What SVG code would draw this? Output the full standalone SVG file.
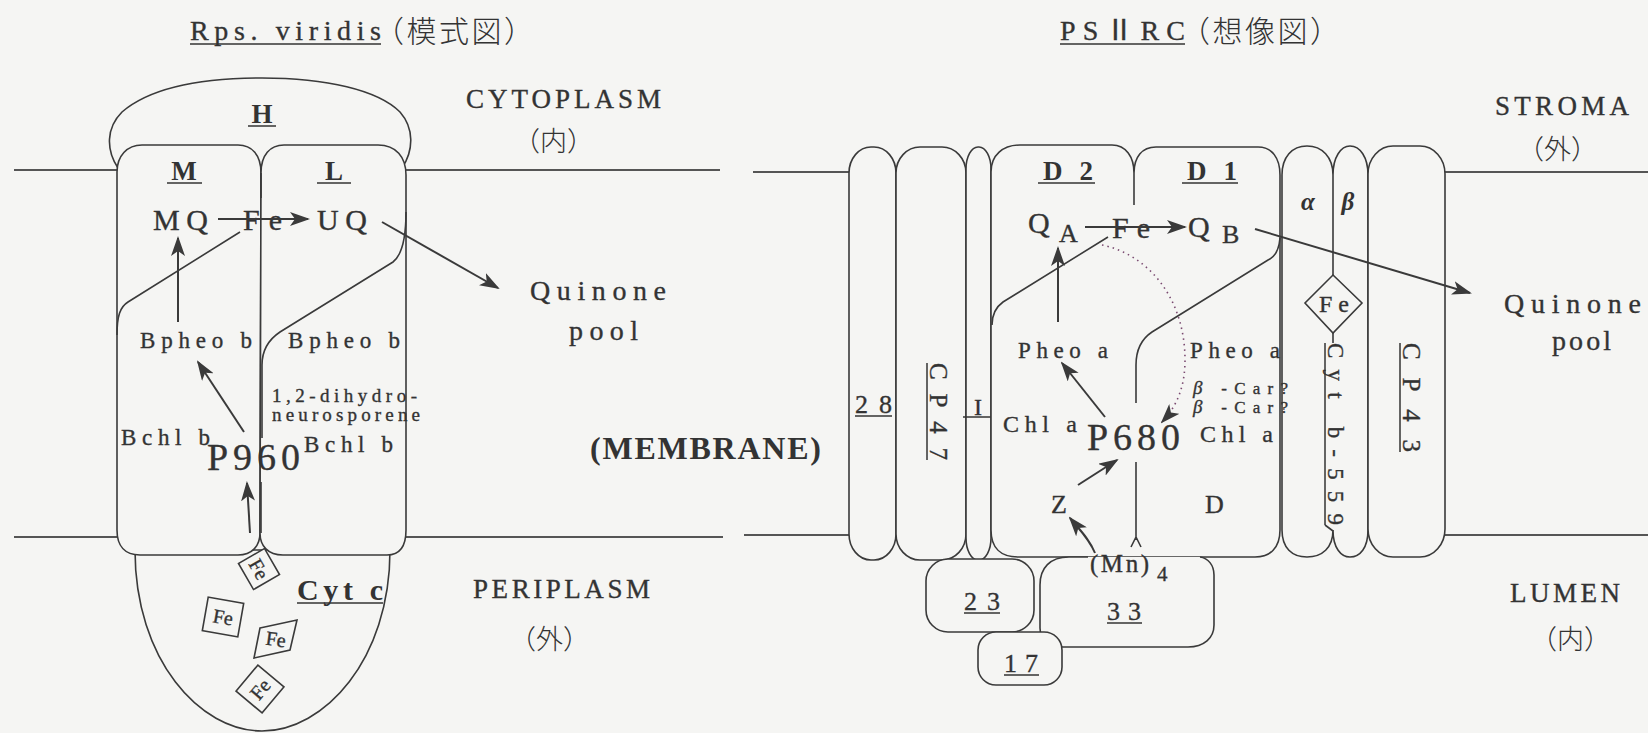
<svg xmlns="http://www.w3.org/2000/svg" width="1648" height="733" viewBox="0 0 1648 733">
<defs>
<marker id="ah" viewBox="0 0 20 14" refX="18" refY="7" markerWidth="20" markerHeight="14" markerUnits="userSpaceOnUse" orient="auto">
<path d="M0,0 L20,7 L0,14 L5,7 Z" fill="#3a3a3a"/>
</marker>
<style>
text{font-family:"Liberation Serif","Noto Sans CJK JP",serif;fill:#333;stroke:#333;stroke-width:0.35}
.jp{font-family:"Noto Sans CJK JP",sans-serif;font-weight:300;stroke:none}
.b{font-weight:bold;stroke:none}
.s{fill:#f5f5f3;stroke:#3a3a3a;stroke-width:1.6}
.ln{fill:none;stroke:#3a3a3a;stroke-width:1.6}
.mem{fill:none;stroke:#555;stroke-width:2}
.ul{fill:none;stroke:#333;stroke-width:1.5}
.ar{fill:none;stroke:#3a3a3a;stroke-width:2;marker-end:url(#ah)}
.dot{fill:none;stroke:#7a4a70;stroke-width:1.6;stroke-dasharray:1.5,4;marker-end:url(#ah)}
</style>
</defs>
<rect width="1648" height="733" fill="#f5f5f3"/>

<!-- membrane lines -->
<g id="membrane">
<path class="mem" d="M14,170 H117 M406,170 H720 M14,537 H119 M406,537 H723"/>
<path class="mem" d="M753,172 H849 M1445,172 H1648 M744,535 H849 M1445,535 H1648"/>
</g>

<!-- titles and region labels -->
<g id="labels">
<text x="190" y="40" font-size="28" textLength="191" lengthAdjust="spacing">Rps. viridis</text>
<path class="ul" d="M190,44 H381"/>
<text class="jp" x="374" y="42" font-size="30" textLength="160" lengthAdjust="spacing">（模式図）</text>
<text x="466" y="108" font-size="27" textLength="195" lengthAdjust="spacing">CYTOPLASM</text>
<text class="jp" x="513" y="151" font-size="27">（内）</text>
<text x="473" y="598" font-size="27" textLength="177" lengthAdjust="spacing">PERIPLASM</text>
<text class="jp" x="509" y="649" font-size="27">（外）</text>
<text class="b" x="590" y="459" font-size="32" textLength="231" lengthAdjust="spacing">(MEMBRANE)</text>
<text x="530" y="300" font-size="28" textLength="136" lengthAdjust="spacing">Quinone</text>
<text x="569" y="340" font-size="28" textLength="69" lengthAdjust="spacing">pool</text>

<text x="1060" y="40" font-size="28" textLength="125" lengthAdjust="spacing">PSⅡRC</text>
<path class="ul" d="M1060,44 H1185"/>
<text class="jp" x="1180" y="42" font-size="30" textLength="160" lengthAdjust="spacing">（想像図）</text>
<text x="1495" y="115" font-size="27" textLength="134" lengthAdjust="spacing">STROMA</text>
<text class="jp" x="1517" y="159" font-size="27">（外）</text>
<text x="1510" y="602" font-size="27" textLength="110" lengthAdjust="spacing">LUMEN</text>
<text class="jp" x="1530" y="649" font-size="27">（内）</text>
<text x="1504" y="313" font-size="28" textLength="137" lengthAdjust="spacing">Quinone</text>
<text x="1552" y="350" font-size="28" textLength="59" lengthAdjust="spacing">pool</text>
</g>

<!-- ===== Left: Rps. viridis ===== -->
<g id="cytc">
<path class="s" d="M135,550 C135,660 200,731 262,731 C324,731 390,660 390,550 Z"/>
<text class="b" x="297" y="600" font-size="30" textLength="86" lengthAdjust="spacing">Cyt c</text>
<path class="ul" d="M297,603 H383"/>
</g>

<g id="H">
<path class="s" d="M118,168 C106,150 106,128 122,112 C150,88 200,78 262,78 C326,78 378,90 400,112 C414,128 414,150 402,168 Z"/>
<text class="b" x="262" y="123" font-size="27" text-anchor="middle">H</text>
<path class="ul" d="M248,126 H276"/>
</g>

<g id="M">
<path class="s" d="M261,173 C261,155 252,145 238,145 L142,145 C127,145 117,156 117,172 L117,530 C117,546 125,555 140,555 L238,555 C252,555 260,546 260,533 Z"/>
<text class="b" x="184" y="180" font-size="27" text-anchor="middle">M</text>
<path class="ul" d="M167,183 H202"/>
</g>

<g id="L">
<path class="s" d="M261,173 C261,155 270,145 284,145 L378,145 C396,145 406,157 406,175 L406,530 C406,546 400,555 387,555 L283,555 C268,555 260,546 260,533 Z"/>
<text class="b" x="334" y="180" font-size="27" text-anchor="middle">L</text>
<path class="ul" d="M317,183 H351"/>
</g>

<g id="left-inner">
<path class="ln" d="M261,173 V198 M261,482 V533"/>
<path class="ln" d="M240,232 L128,302 C120,307 117,316 117,335"/>
<path class="ln" d="M406,212 C406,240 402,255 393,262 L280,332 C268,340 262,350 262,365 V438"/>
</g>

<g id="left-texts">
<text x="153" y="230" font-size="30" textLength="55" lengthAdjust="spacing">MQ</text>
<text x="243" y="230" font-size="30" textLength="39" lengthAdjust="spacing">Fe</text>
<text x="317" y="230" font-size="30" textLength="50" lengthAdjust="spacing">UQ</text>
<text x="140" y="348" font-size="23" textLength="112" lengthAdjust="spacing">Bpheo b</text>
<text x="288" y="348" font-size="23" textLength="112" lengthAdjust="spacing">Bpheo b</text>
<text x="272" y="402" font-size="19" textLength="145" lengthAdjust="spacing">1,2-dihydro-</text>
<text x="272" y="421" font-size="19" textLength="148" lengthAdjust="spacing">neurosporene</text>
<text x="121" y="445" font-size="23" textLength="89" lengthAdjust="spacing">Bchl b</text>
<text x="207" y="470" font-size="38" textLength="93" lengthAdjust="spacing">P960</text>
<text x="304" y="452" font-size="23" textLength="89" lengthAdjust="spacing">Bchl b</text>
</g>

<g id="fe-hemes">
<g transform="translate(259,569) rotate(60)"><rect class="s" x="-15" y="-15" width="30" height="30"/><text x="0" y="7" font-size="20" text-anchor="middle">Fe</text></g>
<g transform="translate(223,617) rotate(10)"><rect class="s" x="-18" y="-17" width="36" height="34"/><text x="0" y="7" font-size="20" text-anchor="middle">Fe</text></g>
<polygon class="s" points="260,628 297,620 290,650 254,658"/>
<text transform="translate(275,646) rotate(8)" font-size="20" text-anchor="middle">Fe</text>
<g transform="translate(260,689) rotate(-50)"><rect class="s" x="-17" y="-17" width="34" height="34"/><text x="0" y="7" font-size="20" text-anchor="middle">Fe</text></g>
</g>

<!-- ===== Right: PSII RC ===== -->
<g id="h28">
<rect class="s" x="849" y="147" width="47" height="413" rx="22" ry="26"/>
<text x="855" y="413" font-size="26" textLength="37" lengthAdjust="spacing">28</text>
<path class="ul" d="M855,416 H892"/>
</g>
<g id="cp47">
<rect class="s" x="896" y="147" width="70" height="413" rx="24" ry="26"/>
<text transform="translate(930,363) rotate(90)" font-size="25" textLength="97" lengthAdjust="spacing">CP47</text>
<path class="ul" d="M927,363 V460"/>
</g>
<g id="hI">
<rect class="s" x="966" y="147" width="25" height="413" rx="12" ry="22"/>
<text x="978" y="415" font-size="24" text-anchor="middle">I</text>
<path class="ul" d="M963,417 H993"/>
</g>

<g id="D2D1">
<path class="s" d="M991,530 L991,172 C991,155 1003,145 1020,145 L1112,145 C1126,145 1134,157 1134,173 C1134,157 1142,147 1156,147 L1258,147 C1272,147 1280,158 1280,175 L1280,530 C1280,548 1270,557 1255,557 L1200,557 L1080,557 L1018,557 C1001,557 991,548 991,530 Z"/>
<path class="ln" d="M1134,173 V205"/>
<path class="ln" d="M1108,237 L1003,302 C996,307 992,314 992,325"/>
<path class="ln" d="M1280,238 C1279,250 1275,257 1268,260 L1152,332 C1143,338 1136,348 1136,365 V403"/>
<path class="ln" d="M1136,462 V540 M1131,547 L1136,537 L1141,547"/>
<text class="b" x="1043" y="180" font-size="27" textLength="50" lengthAdjust="spacing">D2</text>
<path class="ul" d="M1038,183 H1095"/>
<text class="b" x="1187" y="180" font-size="27" textLength="50" lengthAdjust="spacing">D1</text>
<path class="ul" d="M1182,183 H1238"/>
</g>

<g id="alphabeta">
<path class="s" d="M1282,175 C1282,157 1292,146 1307,146 C1322,146 1333,157 1333,175 C1333,157 1341,146 1350,146 C1360,146 1368,157 1368,175 L1368,530 C1368,548 1360,557 1350,557 C1341,557 1333,548 1333,530 C1333,548 1322,557 1307,557 C1292,557 1282,548 1282,530 Z"/>
<path class="ln" d="M1333,175 V275 M1333,333 V343 M1325,525 L1333,531"/>
<text class="b" x="1308" y="210" font-size="25" font-style="italic" text-anchor="middle">α</text>
<text class="b" x="1348" y="210" font-size="25" font-style="italic" text-anchor="middle">β</text>
<polygon class="s" points="1333,275 1362,303 1333,333 1305,303"/>
<text x="1334" y="312" font-size="24" text-anchor="middle" textLength="30" lengthAdjust="spacing">Fe</text>
<text transform="translate(1328,343) rotate(90)" font-size="23" textLength="182" lengthAdjust="spacing">Cyt b-559</text>
<path class="ul" d="M1325,343 V525"/>
</g>

<g id="cp43">
<rect class="s" x="1368" y="146" width="77" height="411" rx="25" ry="28"/>
<text transform="translate(1403,343) rotate(90)" font-size="25" textLength="109" lengthAdjust="spacing">CP43</text>
<path class="ul" d="M1400,343 V452"/>
</g>

<g id="p33">
<path class="s" d="M1088,557 L1069,557 C1050,557 1040,568 1040,585 L1040,628 C1040,640 1050,647 1063,647 L1188,647 C1204,647 1214,638 1214,625 L1214,575 C1214,565 1208,558 1200,557" />
<text x="1124" y="620" font-size="26" text-anchor="middle" textLength="34" lengthAdjust="spacing">33</text>
<path class="ul" d="M1107,623 H1142"/>
</g>
<g id="p23">
<rect class="s" x="926" y="559" width="108" height="73" rx="22"/>
<text x="982" y="610" font-size="26" text-anchor="middle" textLength="36" lengthAdjust="spacing">23</text>
<path class="ul" d="M964,613 H1000"/>
</g>
<g id="p17">
<rect class="s" x="978" y="632" width="84" height="53" rx="18"/>
<text x="1021" y="672" font-size="26" text-anchor="middle" textLength="34" lengthAdjust="spacing">17</text>
<path class="ul" d="M1004,675 H1039"/>
</g>

<g id="right-texts">
<text x="1028" y="233" font-size="30">Q</text>
<text x="1059" y="242" font-size="26">A</text>
<text x="1112" y="238" font-size="30" textLength="38" lengthAdjust="spacing">Fe</text>
<text x="1188" y="237" font-size="30">Q</text>
<text x="1222" y="243" font-size="26">B</text>
<text x="1018" y="358" font-size="23" textLength="90" lengthAdjust="spacing">Pheo a</text>
<text x="1190" y="358" font-size="23" textLength="90" lengthAdjust="spacing">Pheo a</text>
<text x="1003" y="432" font-size="24" textLength="74" lengthAdjust="spacing">Chl a</text>
<text x="1087" y="450" font-size="38" textLength="93" lengthAdjust="spacing">P680</text>
<text x="1200" y="442" font-size="24" textLength="73" lengthAdjust="spacing">Chl a</text>
<text x="1193" y="394" font-size="17" textLength="95" lengthAdjust="spacing"><tspan font-style="italic" font-size="19">β</tspan> -Car?</text>
<text x="1193" y="413" font-size="17" textLength="95" lengthAdjust="spacing"><tspan font-style="italic" font-size="19">β</tspan> -Car?</text>
<text x="1051" y="513" font-size="26">Z</text>
<text x="1205" y="513" font-size="26">D</text>
<text x="1090" y="572" font-size="25" textLength="59" lengthAdjust="spacing">(Mn)</text>
<text x="1157" y="581" font-size="21">4</text>
</g>

<!-- connectors -->
<g id="connectors">
<path class="ar" d="M218,219 H308"/>
<path class="ar" d="M382,222 L498,288"/>
<path class="ar" d="M178,322 V238"/>
<path class="ar" d="M244,432 L198,362"/>
<path class="ar" d="M250,533 L247,483"/>

<path class="ar" d="M1085,227 H1185"/>
<path class="ar" d="M1255,229 L1470,293"/>
<path class="ar" d="M1058,322 V248"/>
<path class="ar" d="M1105,417 L1062,363"/>
<path class="ar" d="M1078,485 L1117,460"/>
<path class="ar" d="M1095,553 C1090,540 1080,530 1070,518"/>
<path class="dot" d="M1102,245 C1150,255 1185,300 1185,360 C1185,385 1178,405 1162,422"/>
</g>
</svg>
